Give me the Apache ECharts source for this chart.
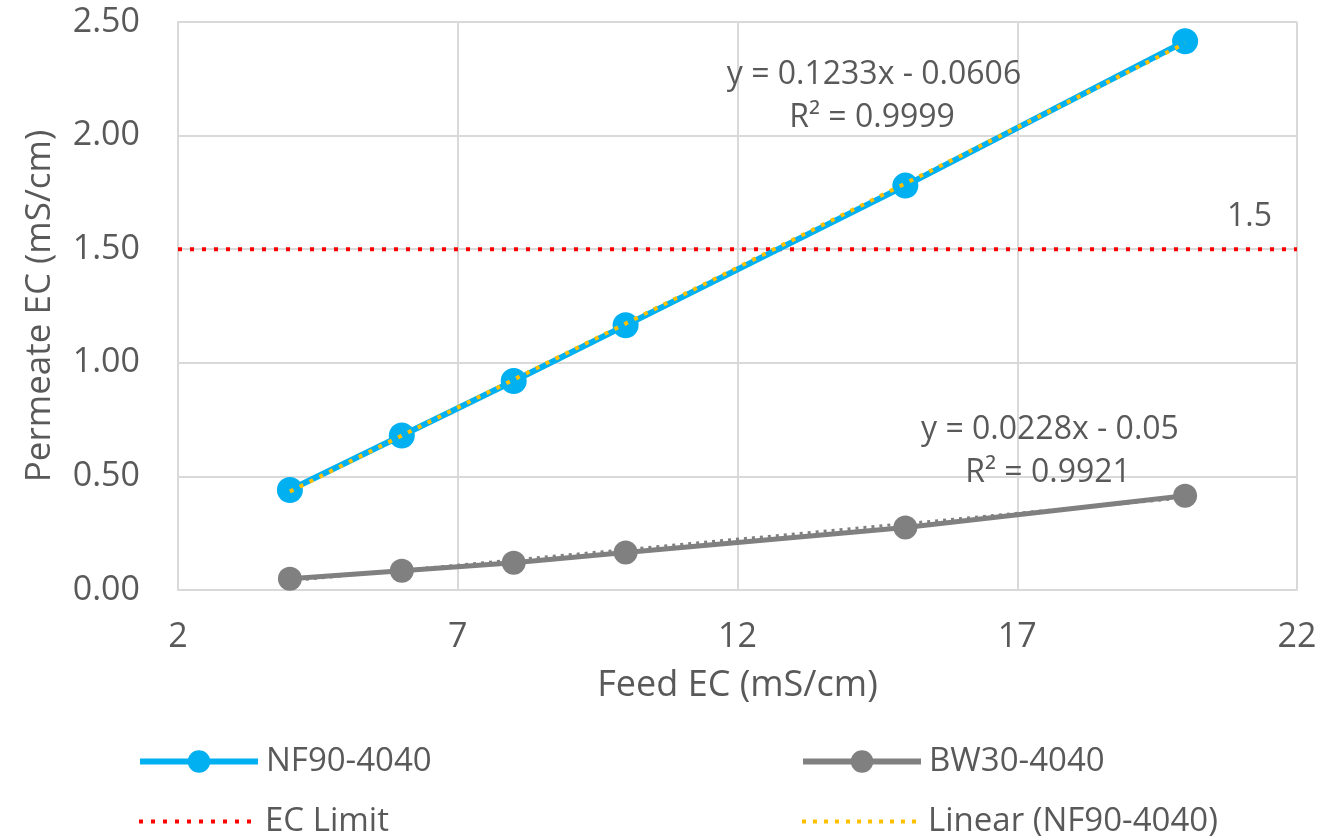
<!DOCTYPE html>
<html>
<head>
<meta charset="utf-8">
<script src="https://cdn.jsdelivr.net/npm/echarts@6/dist/echarts.min.js"></script>
<style>
  html, body { margin: 0; padding: 0; background: #fff; }
  #main { width: 1324px; height: 837px; }
</style>
</head>
<body>
<div id="main"></div>
<script>
// data
const feedEC = [4, 6, 8, 10, 15, 20];
const nf90 = [0.44, 0.68, 0.92, 1.165, 1.78, 2.415];
const bw30 = [0.05, 0.085, 0.12, 0.165, 0.275, 0.415];
const trendX = [4, 20];
const trendNF = [0.433, 2.406];
const trendBW = [0.041, 0.406];
const limitX = [2, 22];
const limitY = [1.5, 1.5];
const eqNF = ['y = 0.1233x - 0.0606', 'R² = 0.9999'];
const eqBW = ['y = 0.0228x - 0.05', 'R² = 0.9921'];

const font = '"Open Sans", "Noto Sans", sans-serif';
const txt = '#595959';
const gridCol = '#d9d9d9';

const pairs = (xs, ys) => xs.map((x, i) => [x, ys[i]]);

const chart = echarts.init(document.getElementById('main'));

// one legend box per entry, laid out as a 2x2 block under the plot
const legendItem = (left, top, item) => ({
	left: left, top: top,
	padding: 0,
	itemWidth: 118, itemHeight: 28,
	textStyle: { color: txt, fontSize: 33, fontFamily: font, padding: [0, 0, 0, 3] },
	data: [item]
});

const eqText = (x, y, text) => ({
	type: 'text', x: x, y: y, z: 100,
	style: { text: text, fill: txt, fontSize: 32, fontFamily: font, align: 'center', verticalAlign: 'middle' }
});

const option = {
	animation: false,
	grid: { left: 178, right: 27, top: 22, bottom: 247 },
	xAxis: {
		type: 'value',
		min: 2, max: 22, interval: 5,
		name: 'Feed EC (mS/cm)',
		nameLocation: 'middle',
		nameGap: 78,
		nameTextStyle: { color: txt, fontSize: 36, fontFamily: font },
		axisLine: { show: true, lineStyle: { color: gridCol, width: 2 } },
		axisTick: { show: false },
		axisLabel: { color: txt, fontSize: 34, fontFamily: font, margin: 30 },
		splitLine: { show: true, lineStyle: { color: gridCol, width: 2 } }
	},
	yAxis: {
		type: 'value',
		min: 0, max: 2.5, interval: 0.5,
		name: 'Permeate EC (mS/cm)',
		nameLocation: 'middle',
		nameGap: 120,
		nameTextStyle: { color: txt, fontSize: 35, fontFamily: font },
		axisLine: { show: true, lineStyle: { color: gridCol, width: 2 } },
		axisTick: { show: false },
		axisLabel: {
			color: txt, fontSize: 34, fontFamily: font, margin: 38,
			formatter: v => v.toFixed(2)
		},
		splitLine: { show: true, lineStyle: { color: gridCol, width: 2 } }
	},
	legend: [
		legendItem(137, 745, { name: 'NF90-4040', lineStyle: { width: 6 } }),
		legendItem(137, 805, { name: 'EC Limit', itemStyle: { opacity: 0 }, lineStyle: { width: 4, type: [4, 8] } }),
		legendItem(800, 745, { name: 'BW30-4040', lineStyle: { width: 6 } }),
		legendItem(800, 805, { name: 'Linear (NF90-4040)', itemStyle: { opacity: 0 }, lineStyle: { width: 4, type: [4, 7] } })
	],
	series: [
		{
			name: 'EC Limit',
			type: 'line',
			data: pairs(limitX, limitY),
			symbol: 'none',
			lineStyle: { color: '#ff0000', width: 4, type: [4, 8] },
			itemStyle: { color: '#ff0000' },
			endLabel: {
				show: true, formatter: '1.5', color: txt, fontSize: 32, fontFamily: font,
				offset: [-78, -32]
			},
			z: 2
		},
		{
			name: 'BW30 trend',
			type: 'line',
			data: pairs(trendX, trendBW),
			symbol: 'none',
			lineStyle: { color: '#808080', width: 3, type: [3, 5] },
			z: 3
		},
		{
			name: 'BW30-4040',
			type: 'line',
			data: pairs(feedEC, bw30),
			symbol: 'circle',
			symbolSize: 24,
			lineStyle: { color: '#808080', width: 5 },
			itemStyle: { color: '#808080' },
			z: 4
		},
		{
			name: 'NF90-4040',
			type: 'line',
			data: pairs(feedEC, nf90),
			symbol: 'circle',
			symbolSize: 26,
			lineStyle: { color: '#00b0f0', width: 6 },
			itemStyle: { color: '#00b0f0' },
			z: 5
		},
		{
			name: 'Linear (NF90-4040)',
			type: 'line',
			data: pairs(trendX, trendNF),
			symbol: 'none',
			lineStyle: { color: '#ffc000', width: 4, type: [4, 7] },
			itemStyle: { color: '#ffc000' },
			z: 6
		}
	],
	graphic: [
		eqText(874, 75, eqNF[0]),
		eqText(872, 118, eqNF[1]),
		eqText(1050, 430, eqBW[0]),
		eqText(1048, 473, eqBW[1])
	]
};

chart.setOption(option);
</script>
</body>
</html>
